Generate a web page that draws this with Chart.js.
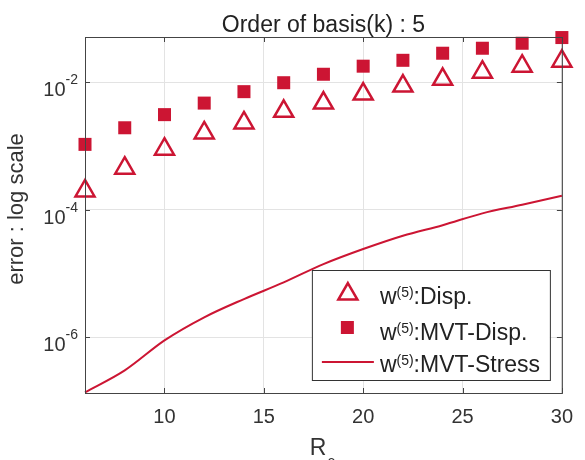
<!DOCTYPE html>
<html>
<head>
<meta charset="utf-8">
<script src="https://cdn.jsdelivr.net/npm/chart.js@4"></script>
<style>
  body { margin: 0; background: #fff; }
  #box { width: 585px; height: 460px; }
</style>
</head>
<body>
<div id="box"><canvas id="errChart"></canvas></div>
<script>
const xValues = [6, 8, 10, 12, 14, 16, 18, 20, 22, 24, 26, 28, 30];
const dispErr = [1.98e-4, 4.5e-4, 8.9e-4, 1.6e-3, 2.3e-3, 3.5e-3, 4.7e-3, 6.5e-3, 8.7e-3, 1.11e-2, 1.43e-2, 1.78e-2, 2.13e-2];
const mvtDispErr = [1.06e-3, 1.93e-3, 3.1e-3, 4.7e-3, 7.1e-3, 9.8e-3, 1.33e-2, 1.78e-2, 2.2e-2, 2.84e-2, 3.4e-2, 4.07e-2, 5.0e-2];
const mvtStressErr = [1.38e-7, 3.05e-7, 9.0e-7, 2.07e-6, 4.0e-6, 7.3e-6, 1.41e-5, 2.43e-5, 3.93e-5, 5.75e-5, 8.8e-5, 1.2e-4, 1.66e-4];
const xTicks = [10, 15, 20, 25, 30];
const yTicks = [1e-6, 1e-4, 1e-2];
const yExp = ["-6", "-4", "-2"];
const legendNames = [":Disp.", ":MVT-Disp.", ":MVT-Stress"];

const red = "#CC1533";
const axisColor = "#444";
const font = "'Liberation Sans', Arial, sans-serif";

function toPoints(vals) {
  return xValues.map(function (x, i) { return { x: x, y: vals[i] }; });
}

// draws title, box, inward ticks, superscript tick labels, axis labels and legend
const matlabLook = {
  id: "matlabLook",
  afterDraw: function (chart) {
    const ctx = chart.ctx;
    const ca = chart.chartArea;
    const xs = chart.scales.x;
    const ys = chart.scales.y;
    const cx = (ca.left + ca.right) / 2;
    ctx.save();

    ctx.fillStyle = "#222";
    ctx.textBaseline = "alphabetic";
    ctx.textAlign = "center";
    ctx.font = "23px " + font;
    ctx.fillText("Order of basis(k) : 5", cx, 32);

    ctx.strokeStyle = axisColor;
    ctx.lineWidth = 1;
    ctx.strokeRect(ca.left + 0.5, ca.top + 0.5, ca.right - ca.left, ca.bottom - ca.top);
    ctx.beginPath();
    xTicks.forEach(function (v) {
      const px = Math.round(xs.getPixelForValue(v)) + 0.5;
      ctx.moveTo(px, ca.bottom); ctx.lineTo(px, ca.bottom - 5);
      ctx.moveTo(px, ca.top); ctx.lineTo(px, ca.top + 5);
    });
    yTicks.forEach(function (v) {
      const py = Math.round(ys.getPixelForValue(v)) + 0.5;
      ctx.moveTo(ca.left, py); ctx.lineTo(ca.left + 5, py);
      ctx.moveTo(ca.right, py); ctx.lineTo(ca.right - 5, py);
    });
    ctx.stroke();

    // y tick labels 10^n
    ctx.fillStyle = "#333";
    yTicks.forEach(function (v, i) {
      const py = ys.getPixelForValue(v);
      ctx.font = "14px " + font;
      const ew = ctx.measureText(yExp[i]).width;
      ctx.textAlign = "right";
      ctx.fillText(yExp[i], ca.left - 7, py + 2);
      ctx.font = "20px " + font;
      ctx.fillText("10", ca.left - 7 - ew, py + 14);
    });

    // x axis label R with subscript
    ctx.font = "23px " + font;
    ctx.textAlign = "right";
    ctx.fillText("R", cx + 3, 455);
    ctx.font = "15px " + font;
    ctx.textAlign = "left";
    ctx.fillText("c", cx + 4, 466);

    // y axis label
    ctx.save();
    ctx.translate(23, (ca.top + ca.bottom) / 2 - 6);
    ctx.rotate(-Math.PI / 2);
    ctx.font = "22px " + font;
    ctx.textAlign = "center";
    ctx.fillText("error : log scale", 0, 0);
    ctx.restore();

    // legend
    const lx = ca.right - 250;
    const ly = ca.bottom - 123;
    ctx.fillStyle = "#fff";
    ctx.fillRect(lx, ly, 238, 110);
    ctx.strokeStyle = "#333";
    ctx.strokeRect(lx + 0.5, ly + 0.5, 238, 110);
    const rows = [ly + 34, ly + 70, ly + 102];
    ctx.strokeStyle = red;
    ctx.fillStyle = red;
    ctx.lineWidth = 2.5;
    // triangle
    const tx = lx + 36, ty = ly + 24, r = 11;
    ctx.beginPath();
    ctx.moveTo(tx, ty - r);
    ctx.lineTo(tx + r * 0.866, ty + r / 2);
    ctx.lineTo(tx - r * 0.866, ty + r / 2);
    ctx.closePath();
    ctx.stroke();
    // square
    ctx.fillRect(lx + 29, ly + 51, 13, 13);
    // line
    ctx.lineWidth = 2;
    ctx.beginPath();
    ctx.moveTo(lx + 10, ly + 92);
    ctx.lineTo(lx + 62, ly + 92);
    ctx.stroke();

    ctx.fillStyle = "#222";
    ctx.textAlign = "left";
    legendNames.forEach(function (name, i) {
      let x = lx + 68;
      ctx.font = "23px " + font;
      ctx.fillText("w", x, rows[i]);
      x += ctx.measureText("w").width;
      ctx.font = "14px " + font;
      ctx.fillText("(5)", x, rows[i] - 7);
      x += ctx.measureText("(5)").width;
      ctx.font = "23px " + font;
      ctx.fillText(name, x, rows[i]);
    });
    ctx.restore();
  },
};

new Chart("errChart", {
  type: "line",
  data: {
    datasets: [
      {
        label: "w(5):Disp.",
        data: toPoints(dispErr),
        showLine: false,
        pointStyle: "triangle",
        pointRadius: 11,
        pointBorderWidth: 2.5,
        pointBorderColor: red,
        pointBackgroundColor: "rgba(0,0,0,0)",
      },
      {
        label: "w(5):MVT-Disp.",
        data: toPoints(mvtDispErr),
        showLine: false,
        pointStyle: "rect",
        pointRadius: 9.2,
        pointBorderWidth: 0,
        pointBackgroundColor: red,
      },
      {
        label: "w(5):MVT-Stress",
        data: toPoints(mvtStressErr),
        borderColor: red,
        borderWidth: 2,
        pointRadius: 0,
        cubicInterpolationMode: "monotone",
        fill: false,
      },
    ],
  },
  options: {
    responsive: true,
    maintainAspectRatio: false,
    animation: false,
    clip: false,
    layout: { padding: { left: 0, right: 12, top: 37, bottom: 0 } },
    plugins: {
      legend: { display: false },
      tooltip: { enabled: false },
    },
    scales: {
      x: {
        type: "linear",
        min: 6,
        max: 30,
        afterBuildTicks: function (s) { s.ticks = xTicks.map(function (v) { return { value: v }; }); },
        afterFit: function (s) { s.height = 67; },
        grid: { color: "#e3e3e3", drawTicks: false },
        border: { display: false },
        ticks: { color: "#333", padding: 12, font: { family: font, size: 20 }, maxRotation: 0 },
      },
      y: {
        type: "logarithmic",
        min: 1.35e-7,
        max: 5.1e-2,
        afterBuildTicks: function (s) { s.ticks = yTicks.map(function (v) { return { value: v }; }); },
        afterFit: function (s) { s.width = 85; },
        grid: { color: "#e3e3e3", drawTicks: false },
        border: { display: false },
        ticks: { display: false },
      },
    },
  },
  plugins: [matlabLook],
});
</script>
</body>
</html>
